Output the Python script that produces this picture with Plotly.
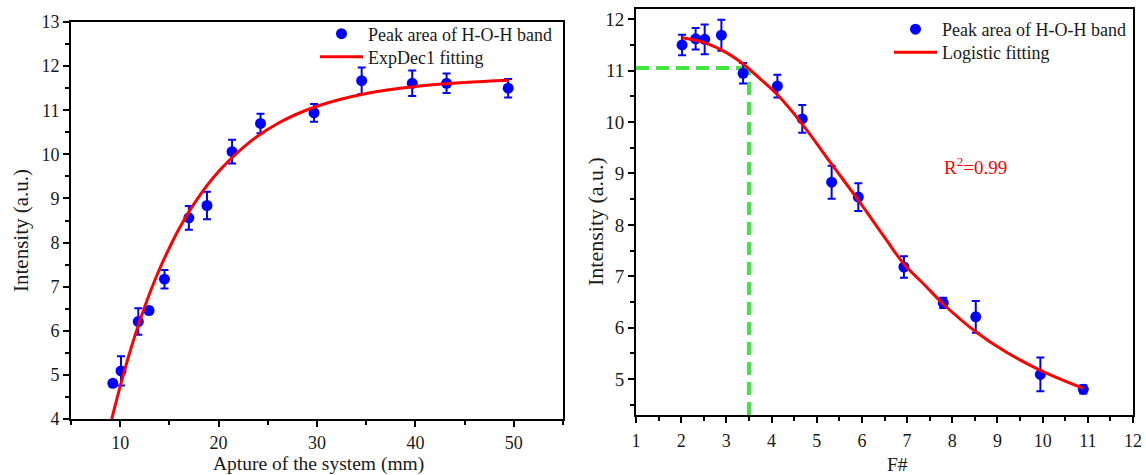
import plotly.graph_objects as go

# ---- Left panel: intensity vs. system aperture ----
aperture_mm = [9.25, 10.08, 11.84, 12.93, 14.50, 16.98, 18.82, 21.37, 24.26, 29.70, 34.54, 39.68, 43.17, 49.43]
aperture_area = [4.81, 5.09, 6.21, 6.46, 7.17, 8.56, 8.84, 10.06, 10.70, 10.94, 11.67, 11.61, 11.61, 11.50]
aperture_err = [0.06, 0.33, 0.30, 0.07, 0.21, 0.27, 0.31, 0.27, 0.22, 0.20, 0.30, 0.29, 0.22, 0.21]

expdec_x = [9.14, 10, 11, 12, 13, 14, 15, 16, 18, 20, 23, 26, 30, 35, 40, 45, 49.5]
expdec_y = [4.00, 4.74, 5.53, 6.23, 6.85, 7.40, 7.88, 8.32, 9.04, 9.61, 10.25, 10.70, 11.09, 11.38, 11.54, 11.63, 11.68]

# ---- Right panel: intensity vs. F-number ----
f_number = [2.02, 2.32, 2.52, 2.89, 3.37, 4.13, 4.68, 5.33, 5.92, 6.93, 7.80, 8.52, 9.95, 10.90]
fnum_area = [11.50, 11.62, 11.61, 11.69, 10.95, 10.70, 10.06, 8.83, 8.54, 7.18, 6.48, 6.21, 5.09, 4.80]
fnum_err = [0.20, 0.21, 0.29, 0.30, 0.20, 0.22, 0.27, 0.32, 0.27, 0.21, 0.10, 0.31, 0.33, 0.08]

logistic_x = [2.02, 2.5, 3.0, 3.37, 3.8, 4.13, 4.68, 5.33, 5.92, 6.53, 6.93, 7.4, 7.8, 8.52, 9.2, 9.95, 10.9]
logistic_y = [11.64, 11.55, 11.35, 11.13, 10.80, 10.53, 9.96, 9.18, 8.48, 7.72, 7.24, 6.82, 6.46, 5.92, 5.52, 5.17, 4.82]

# Threshold guide (F# = 3.5, intensity = 11.05)
guide_f = 3.5
guide_level = 11.05

# Axis ranges
left_x_range = [5, 55]
left_y_range = [4, 13]
right_x_range = [1, 12]
right_y_range = [4.3, 12.2]

W, H = 1146, 475
FONT = "Liberation Serif, Times New Roman, serif"
TXT = "#1a1a1a"
BLUE = "#0000ff"
RED = "#ff0000"
GREEN = "#3ee83e"

fig = go.Figure()

# Left panel traces (one legend box per entry so each row can be placed)
fig.add_trace(go.Scatter(
    x=aperture_mm, y=aperture_area, mode="markers",
    marker=dict(color=BLUE, size=11),
    error_y=dict(type="data", array=aperture_err, color=BLUE, thickness=2, width=4),
    name="Peak area of H-O-H band", legend="legend", xaxis="x", yaxis="y"))
fig.add_trace(go.Scatter(
    x=expdec_x, y=expdec_y, mode="lines",
    line=dict(color=RED, width=3, shape="spline", smoothing=1),
    name="ExpDec1 fitting", legend="legend2", xaxis="x", yaxis="y"))

# Right panel traces
fig.add_trace(go.Scatter(
    x=[right_x_range[0], guide_f], y=[guide_level, guide_level], mode="lines",
    line=dict(color=GREEN, width=4, dash="13px,7px"),
    showlegend=False, hoverinfo="skip", xaxis="x2", yaxis="y2"))
fig.add_trace(go.Scatter(
    x=[guide_f, guide_f], y=[right_y_range[0], guide_level], mode="lines",
    line=dict(color=GREEN, width=4, dash="13px,7px"),
    showlegend=False, hoverinfo="skip", xaxis="x2", yaxis="y2"))
fig.add_trace(go.Scatter(
    x=f_number, y=fnum_area, mode="markers",
    marker=dict(color=BLUE, size=11),
    error_y=dict(type="data", array=fnum_err, color=BLUE, thickness=2, width=4),
    name="Peak area of H-O-H band", legend="legend3", xaxis="x2", yaxis="y2"))
fig.add_trace(go.Scatter(
    x=logistic_x, y=logistic_y, mode="lines",
    line=dict(color=RED, width=3, shape="spline", smoothing=1),
    name="Logistic fitting", legend="legend4", xaxis="x2", yaxis="y2"))


def axis_style(rng, dtick, minor_dtick, domain, anchor, size, standoff=0):
    return dict(
        range=rng, domain=domain, anchor=anchor,
        showline=True, linecolor="black", linewidth=2, mirror=True,
        ticks="outside", ticklen=6, tickwidth=2, tickcolor="black",
        dtick=dtick, tick0=0,
        minor=dict(ticks="outside", ticklen=4, tickwidth=2, tickcolor="black", dtick=minor_dtick),
        showgrid=False, zeroline=False, automargin=False,
        ticklabelstandoff=standoff,
        tickfont=dict(family=FONT, size=size, color=TXT),
    )


def legend_box(text_left_px, row_center_px):
    # item symbol 43 px wide, label starts 53 px from the box edge
    return dict(x=(text_left_px - 53) / W, y=1 - (row_center_px - 18.5) / H,
                xanchor="left", yanchor="top", itemwidth=43,
                bgcolor="rgba(0,0,0,0)", font=dict(family=FONT, size=18, color=TXT))


left_xd = [71 / W, 563 / W]
left_yd = [1 - 419 / H, 1 - 22 / H]
right_xd = [636 / W, 1133 / W]
right_yd = [1 - 415 / H, 1 - 9 / H]

fig.update_layout(
    width=W, height=H,
    margin=dict(l=0, r=0, t=0, b=0, autoexpand=False),
    paper_bgcolor="white", plot_bgcolor="white",
    font=dict(family=FONT, color=TXT),
    xaxis=axis_style(left_x_range, 10, 5, left_xd, "y", 18, standoff=0),
    yaxis=axis_style(left_y_range, 1, 0.5, left_yd, "x", 18),
    xaxis2=axis_style(right_x_range, 1, 0.5, right_xd, "y2", 18, standoff=2),
    yaxis2=axis_style(right_y_range, 1, 0.5, right_yd, "x2", 19),
    legend=legend_box(368, 34),
    legend2=legend_box(368, 57),
    legend3=legend_box(942, 29.5),
    legend4=legend_box(942, 52.5),
    showlegend=True,
)

# Axis titles and fit statistic
fig.add_annotation(text="Apture of the system (mm)", x=318 / W, y=1 - 464 / H,
                   xref="paper", yref="paper", xanchor="center", yanchor="middle",
                   showarrow=False, font=dict(family=FONT, size=19.5, color=TXT))
fig.add_annotation(text="Intensity (a.u.)", x=21 / W, y=1 - 231 / H,
                   xref="paper", yref="paper", xanchor="center", yanchor="middle",
                   showarrow=False, textangle=-90,
                   font=dict(family=FONT, size=21, color=TXT))
fig.add_annotation(text="F#", x=897 / W, y=1 - 464 / H,
                   xref="paper", yref="paper", xanchor="center", yanchor="middle",
                   showarrow=False, font=dict(family=FONT, size=19.5, color=TXT))
fig.add_annotation(text="Intensity (a.u.)", x=595 / W, y=1 - 222 / H,
                   xref="paper", yref="paper", xanchor="center", yanchor="middle",
                   showarrow=False, textangle=-90,
                   font=dict(family=FONT, size=22, color=TXT))
fig.add_annotation(text="R<sup>2</sup>=0.99", x=942 / W, y=1 - 166 / H,
                   xref="paper", yref="paper", xanchor="left", yanchor="middle",
                   showarrow=False, font=dict(family=FONT, size=19, color=RED))

fig.write_html("out.html")
